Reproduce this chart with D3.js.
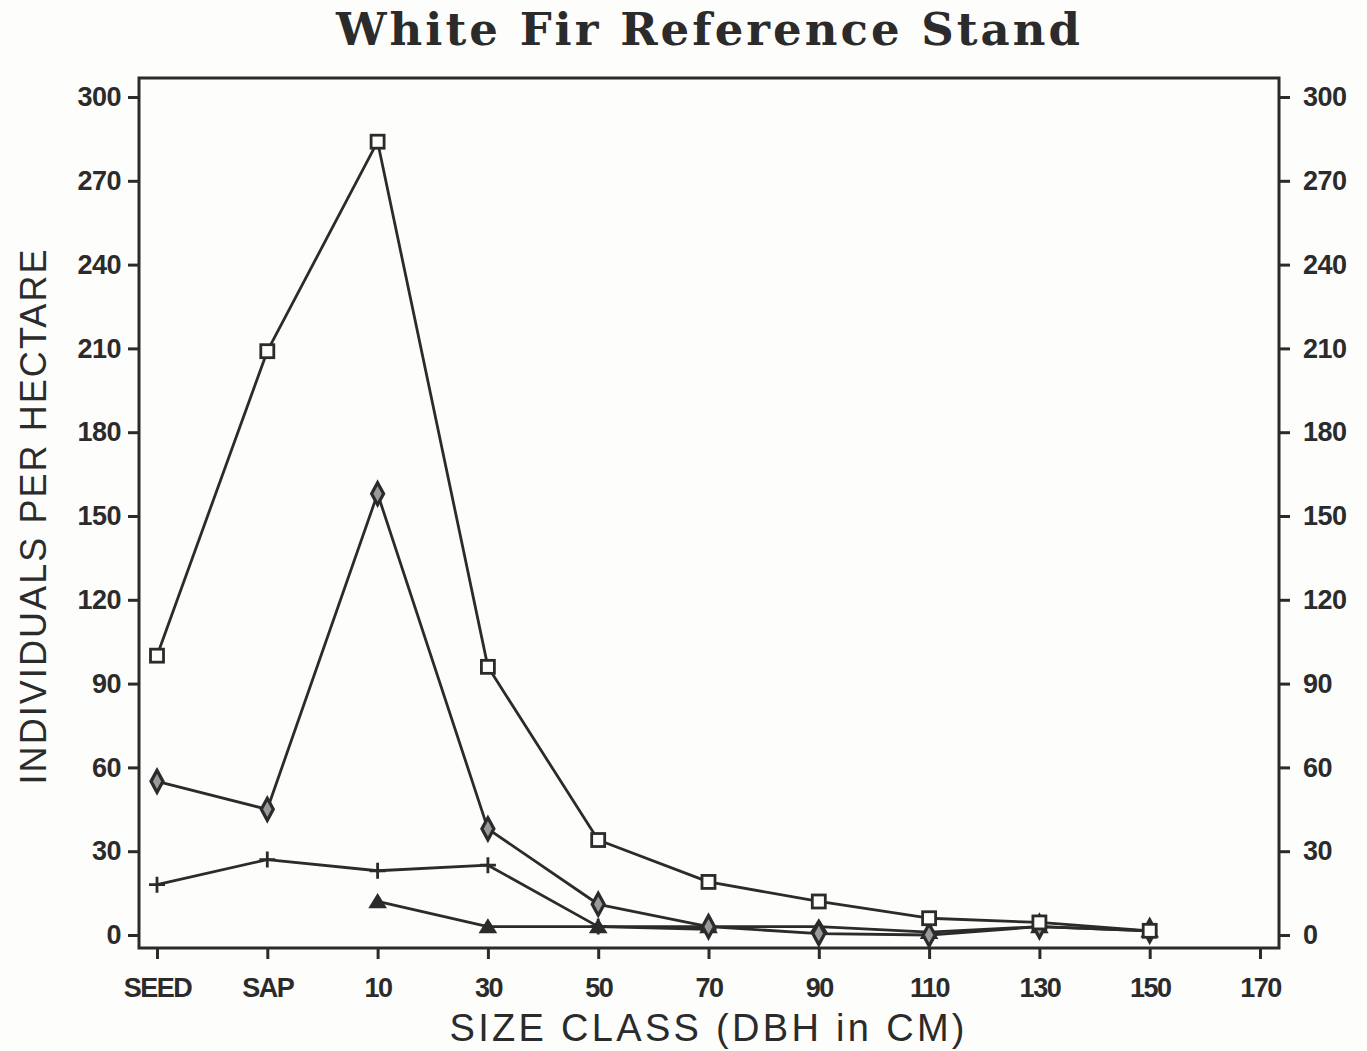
<!DOCTYPE html>
<html>
<head>
<meta charset="utf-8">
<script src="https://cdn.jsdelivr.net/npm/d3@7"></script>
<style>
  body { margin: 0; background: #fdfdfb; }
  svg { display: block; }
</style>
</head>
<body>
<div id="chart"></div>
<script>
// size classes on the x axis (170 has a tick but no data)
var sizeClasses = ["SEED", "SAP", "10", "30", "50", "70", "90", "110", "130", "150", "170"];
var yTicks = [0, 30, 60, 90, 120, 150, 180, 210, 240, 270, 300];

// values, null = no point
var squareVals   = [100, 209, 284, 96, 34, 19, 12, 6, 4.5, 1.5];
var diamondVals  = [55, 45, 158, 38, 11, 3, 0.5, 0, 3, 1.5];
var plusVals     = [18, 27, 23, 25, 3, 2];
var triangleVals = [null, null, 12, 3, 3, 3, 3, 1, 3, 1.5];

var width = 1367, height = 1051;
var ink = "#2b2b2b";

var svg = d3.select("#chart").append("svg")
    .attr("width", width)
    .attr("height", height)
    .style("font-family", "'Liberation Sans', Arial, sans-serif");

var frame = {left: 139, right: 1279, top: 78, bottom: 948};

var x = d3.scalePoint()
    .domain(sizeClasses)
    .range([157, 1260]);

var y = d3.scaleLinear()
    .domain([0, 300])
    .range([935, 97]);

// frame
svg.append("rect")
    .attr("x", frame.left).attr("y", frame.top)
    .attr("width", frame.right - frame.left)
    .attr("height", frame.bottom - frame.top)
    .attr("fill", "none")
    .attr("stroke", ink)
    .attr("stroke-width", 3);

// axes
var leftAxis = svg.append("g")
    .attr("transform", "translate(" + frame.left + ",0)")
    .call(d3.axisLeft(y).tickValues(yTicks).tickSize(11).tickPadding(14));
var rightAxis = svg.append("g")
    .attr("transform", "translate(" + frame.right + ",0)")
    .call(d3.axisRight(y).tickValues(yTicks).tickSize(11).tickPadding(14));
var bottomAxis = svg.append("g")
    .attr("transform", "translate(0," + frame.bottom + ")")
    .call(d3.axisBottom(x).tickSize(11).tickPadding(14));

[leftAxis, rightAxis, bottomAxis].forEach(function(a){
    a.select(".domain").remove();
    a.selectAll("line").attr("stroke", ink).attr("stroke-width", 3);
    a.selectAll("text")
        .attr("fill", ink)
        .style("font-size", "27px")
        .style("font-weight", "bold")
        .style("font-family", "'Liberation Sans', Arial, sans-serif");
});
bottomAxis.selectAll("text").attr("dy", "0.9em").style("letter-spacing", "-1.5px");
leftAxis.selectAll("text").attr("x", -18).style("letter-spacing", "-0.5px");
rightAxis.selectAll("text").attr("x", 24).style("letter-spacing", "-0.5px");

// title
svg.append("text")
    .attr("x", 708).attr("y", 45)
    .attr("text-anchor", "middle")
    .attr("textLength", 744)
    .attr("lengthAdjust", "spacing")
    .attr("fill", ink)
    .style("font-family", "'DejaVu Serif', serif")
    .style("font-weight", "bold")
    .style("font-size", "45px")
    .text("White Fir Reference Stand");

// axis titles
svg.append("text")
    .attr("transform", "translate(46,517) rotate(-90)")
    .attr("text-anchor", "middle")
    .attr("textLength", 535)
    .attr("lengthAdjust", "spacing")
    .attr("fill", ink)
    .style("font-size", "36px")
    .text("INDIVIDUALS PER HECTARE");

svg.append("text")
    .attr("x", 707).attr("y", 1041)
    .attr("text-anchor", "middle")
    .attr("textLength", 515)
    .attr("lengthAdjust", "spacing")
    .attr("fill", ink)
    .style("font-size", "38px")
    .text("SIZE CLASS (DBH in CM)");

// series
function toPoints(vals) {
    return vals.map(function(v, i){ return {c: sizeClasses[i], v: v}; })
        .filter(function(d){ return d.v !== null; });
}

var line = d3.line()
    .x(function(d){ return x(d.c); })
    .y(function(d){ return y(d.v); });

var series = [
    {vals: plusVals, mark: "plus"},
    {vals: triangleVals, mark: "triangle"},
    {vals: diamondVals, mark: "diamond"},
    {vals: squareVals, mark: "square"}
];

series.forEach(function(s){
    var pts = toPoints(s.vals);
    svg.append("path")
        .datum(pts)
        .attr("d", line)
        .attr("fill", "none")
        .attr("stroke", ink)
        .attr("stroke-width", 2.8)
        .attr("stroke-linejoin", "round");

    var g = svg.append("g").selectAll("g")
        .data(pts)
        .enter().append("g")
        .attr("transform", function(d){ return "translate(" + x(d.c) + "," + y(d.v) + ")"; });

    if (s.mark === "square") {
        g.append("rect")
            .attr("x", -6.5).attr("y", -6.5)
            .attr("width", 13).attr("height", 13)
            .attr("fill", "#fdfdfb")
            .attr("stroke", ink).attr("stroke-width", 2.8);
    } else if (s.mark === "diamond") {
        g.append("path")
            .attr("d", "M0,-11 L6,0 L0,11 L-6,0 Z")
            .attr("fill", "#9a9a9a")
            .attr("stroke", ink).attr("stroke-width", 3.2);
    } else if (s.mark === "plus") {
        g.append("path")
            .attr("d", "M-8,0 H8 M0,-8 V8")
            .attr("stroke", ink).attr("stroke-width", 2.8);
    } else {
        g.append("path")
            .attr("d", "M0,-7 L8,6 L-8,6 Z")
            .attr("fill", ink)
            .attr("stroke", ink).attr("stroke-width", 1.5);
    }
});
</script>
</body>
</html>
